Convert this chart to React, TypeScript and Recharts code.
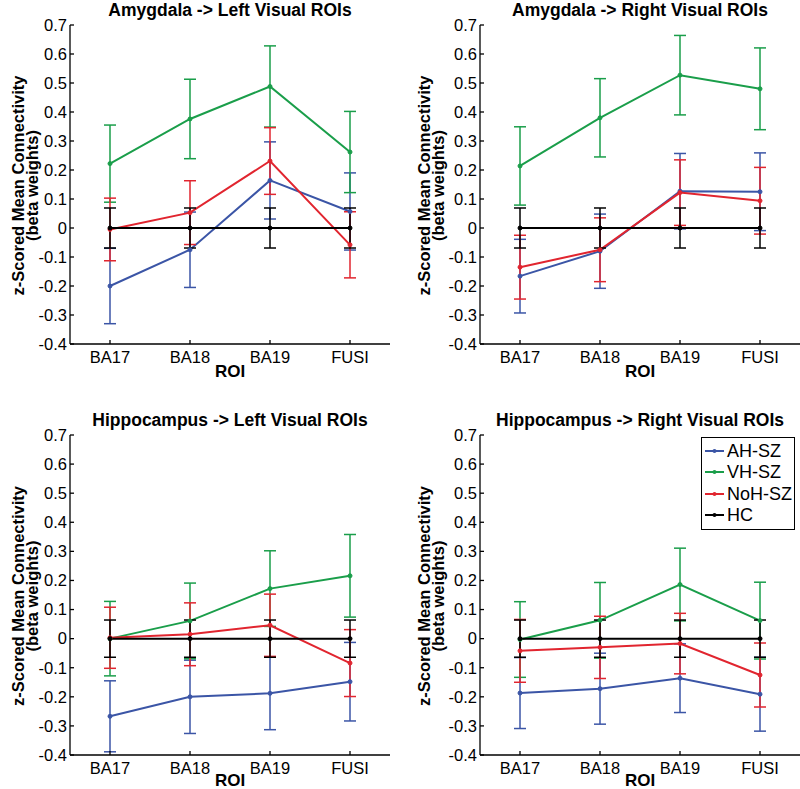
import React from 'react';
import { LineChart, Line, XAxis, YAxis, ErrorBar, Legend } from 'recharts';

const rois = ['BA17', 'BA18', 'BA19', 'FUSI'];
const yTicks = [-0.4, -0.3, -0.2, -0.1, 0, 0.1, 0.2, 0.3, 0.4, 0.5, 0.6, 0.7];

// Amygdala -> Left
const amyLeftAH = [-0.2, -0.075, 0.164, 0.057];
const amyLeftAHErr = [0.13, 0.13, 0.133, 0.133];
const amyLeftVH = [0.222, 0.376, 0.488, 0.262];
const amyLeftVHErr = [0.133, 0.137, 0.14, 0.14];
const amyLeftNoH = [-0.005, 0.053, 0.231, -0.058];
const amyLeftNoHErr = [0.108, 0.11, 0.115, 0.114];

// Amygdala -> Right
const amyRightAH = [-0.166, -0.08, 0.127, 0.125];
const amyRightAHErr = [0.127, 0.128, 0.13, 0.134];
const amyRightVH = [0.214, 0.38, 0.527, 0.48];
const amyRightVHErr = [0.135, 0.135, 0.137, 0.141];
const amyRightNoH = [-0.135, -0.075, 0.122, 0.094];
const amyRightNoHErr = [0.11, 0.11, 0.113, 0.115];

// Hippocampus -> Left
const hipLeftAH = [-0.267, -0.2, -0.188, -0.148];
const hipLeftAHErr = [0.122, 0.126, 0.125, 0.135];
const hipLeftVH = [0.0, 0.061, 0.172, 0.216];
const hipLeftVHErr = [0.128, 0.13, 0.13, 0.142];
const hipLeftNoH = [0.003, 0.015, 0.046, -0.084];
const hipLeftNoHErr = [0.105, 0.108, 0.107, 0.115];

// Hippocampus -> Right
const hipRightAH = [-0.187, -0.172, -0.136, -0.191];
const hipRightAHErr = [0.122, 0.122, 0.118, 0.127];
const hipRightVH = [-0.003, 0.063, 0.186, 0.062];
const hipRightVHErr = [0.13, 0.13, 0.125, 0.132];
const hipRightNoH = [-0.042, -0.03, -0.017, -0.125];
const hipRightNoHErr = [0.108, 0.107, 0.104, 0.11];

// healthy controls are the reference (0)
const hcMean = [0, 0, 0, 0];
const amyHCErr = [0.069, 0.069, 0.069, 0.069];
const hipHCErr = [0.064, 0.064, 0.064, 0.064];

const groups = [
  { key: 'ah', name: 'AH-SZ', color: '#3b55a6' },
  { key: 'vh', name: 'VH-SZ', color: '#1a9e4a' },
  { key: 'noh', name: 'NoH-SZ', color: '#e1252f' },
  { key: 'hc', name: 'HC', color: '#000000' },
];

const fmt = (v: number) => (Math.abs(v) < 1e-9 ? '0' : v.toFixed(1));

function YLabel({ viewBox, x1, x2 }: any) {
  const cy = viewBox.y + viewBox.height / 2 + 1;
  const common = { textAnchor: 'middle' as const, dominantBaseline: 'central' as const, fontSize: 16.5, fontWeight: 'bold', fill: '#000' };
  return (
    <g>
      <text x={x1} y={cy} transform={`rotate(-90, ${x1}, ${cy})`} {...common}>z-Scored Mean Connectivity</text>
      <text x={x2} y={cy} transform={`rotate(-90, ${x2}, ${cy})`} {...common}>(beta weights)</text>
    </g>
  );
}

function RoiLabel({ viewBox, dy }: any) {
  return (
    <text x={viewBox.x + viewBox.width / 2} y={viewBox.y + dy} textAnchor="middle" fontSize={17} fontWeight="bold" fill="#000">
      ROI
    </text>
  );
}

function LegendBox() {
  return (
    <div style={{ border: '1.5px solid #000', background: '#fff', width: 94, padding: '2px 0 3px 0', boxSizing: 'border-box' }}>
      {groups.map((g) => (
        <div key={g.key} style={{ display: 'flex', alignItems: 'center', height: 21.5 }}>
          <svg width={23} height={10} style={{ marginLeft: 2 }}>
            <line x1={1} y1={5} x2={20} y2={5} stroke={g.color} strokeWidth={2} />
            <circle cx={10.5} cy={5} r={2} fill={g.color} />
          </svg>
          <span style={{ fontSize: 18, lineHeight: '18px', color: '#000' }}>{g.name}</span>
        </div>
      ))}
    </div>
  );
}

function Panel(props: any) {
  const { title, left, top, height, plotH, yW, lx1, lx2, ah, ahErr, vh, vhErr, noh, nohErr, hcErr, legend, roiDy } = props;
  const rows = rois.map((roi, i) => ({
    roi,
    ah: ah[i], ahErr: ahErr[i],
    vh: vh[i], vhErr: vhErr[i],
    noh: noh[i], nohErr: nohErr[i],
    hc: hcMean[i], hcErr: hcErr[i],
  }));
  return (
    <div style={{ position: 'absolute', left, top, width: 400, height }}>
      <div style={{ position: 'absolute', left: yW - 10, top: 0.5, width: 340, textAlign: 'center', fontSize: 17.5, lineHeight: '19px', fontWeight: 'bold', whiteSpace: 'nowrap' }}>
        {title}
      </div>
      <LineChart width={400} height={height} data={rows} margin={{ top: 25, right: 400 - yW - 320, left: 0, bottom: 0 }}>
        <XAxis
          dataKey="roi"
          height={height - 25 - plotH}
          padding={{ left: 40, right: 40 }}
          axisLine={{ stroke: '#000', strokeWidth: 1.3 }}
          tickLine={{ stroke: '#000', strokeWidth: 1.3 }}
          tickSize={-4}
          tickMargin={11}
          tick={{ fill: '#000', fontSize: 16.5 }}
          interval={0}
          label={{ content: (p: any) => <RoiLabel viewBox={p.viewBox} dy={roiDy} /> }}
        />
        <YAxis
          type="number"
          width={yW}
          domain={[-0.4, 0.7]}
          ticks={yTicks}
          allowDataOverflow
          tickFormatter={fmt}
          axisLine={{ stroke: '#000', strokeWidth: 1.3 }}
          tickLine={{ stroke: '#000', strokeWidth: 1.3 }}
          tickSize={-4}
          tickMargin={7}
          tick={{ fill: '#000', fontSize: 16.5 }}
          interval={0}
          label={{ content: (p: any) => <YLabel viewBox={p.viewBox} x1={lx1} x2={lx2} /> }}
        />
        {groups.map((g) => (
          <Line
            key={g.key}
            dataKey={g.key}
            name={g.name}
            stroke={g.color}
            strokeWidth={2}
            dot={{ r: 2, fill: g.color, stroke: g.color, strokeWidth: 1 }}
            activeDot={false}
            isAnimationActive={false}
          >
            <ErrorBar dataKey={`${g.key}Err`} direction="y" width={6} stroke={g.color} strokeWidth={1.5} isAnimationActive={false} />
          </Line>
        ))}
        {legend && (
          <Legend
            layout="horizontal"
            verticalAlign="middle"
            align="center"
            content={() => <LegendBox />}
            wrapperStyle={{ position: 'absolute', left: 301, top: 27, width: 'auto', height: 'auto' }}
          />
        )}
      </LineChart>
    </div>
  );
}

export default function App() {
  return (
    <div style={{ position: 'absolute', left: 0, top: 0, width: 800, height: 789, overflow: 'hidden', background: '#fff', fontFamily: '"Liberation Sans", Arial, sans-serif' }}>
      <Panel
        title="Amygdala -> Left Visual ROIs" left={0} top={0} height={395} plotH={319} yW={70} lx1={18} lx2={32} roiDy={33}
        ah={amyLeftAH} ahErr={amyLeftAHErr} vh={amyLeftVH} vhErr={amyLeftVHErr} noh={amyLeftNoH} nohErr={amyLeftNoHErr} hcErr={amyHCErr}
      />
      <Panel
        title="Amygdala -> Right Visual ROIs" left={400} top={0} height={395} plotH={319} yW={80} lx1={24} lx2={38} roiDy={33}
        ah={amyRightAH} ahErr={amyRightAHErr} vh={amyRightVH} vhErr={amyRightVHErr} noh={amyRightNoH} nohErr={amyRightNoHErr} hcErr={amyHCErr}
      />
      <Panel
        title="Hippocampus -> Left Visual ROIs" left={0} top={410} height={379} plotH={320} yW={70} lx1={18} lx2={32} roiDy={31}
        ah={hipLeftAH} ahErr={hipLeftAHErr} vh={hipLeftVH} vhErr={hipLeftVHErr} noh={hipLeftNoH} nohErr={hipLeftNoHErr} hcErr={hipHCErr}
      />
      <Panel
        title="Hippocampus -> Right Visual ROIs" left={400} top={410} height={379} plotH={320} yW={80} lx1={24} lx2={38} roiDy={31} legend
        ah={hipRightAH} ahErr={hipRightAHErr} vh={hipRightVH} vhErr={hipRightVHErr} noh={hipRightNoH} nohErr={hipRightNoHErr} hcErr={hipHCErr}
      />
    </div>
  );
}
